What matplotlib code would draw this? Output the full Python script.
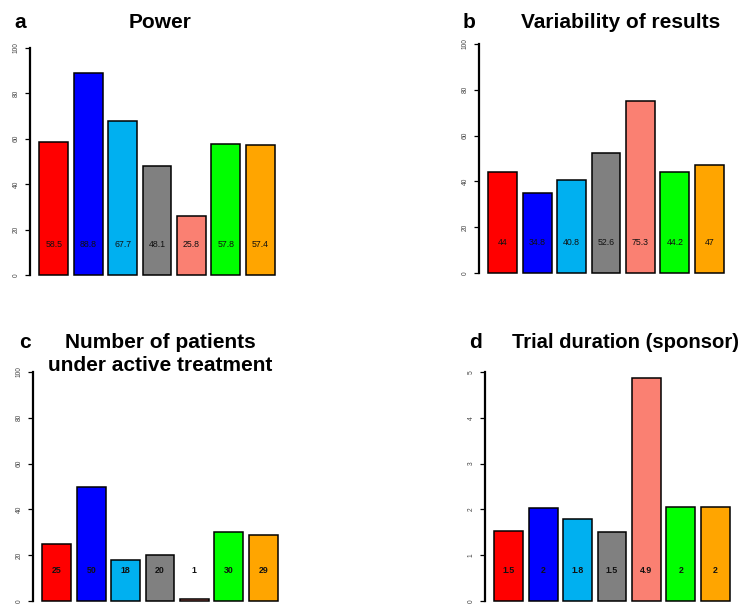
import matplotlib
matplotlib.use("Agg")
import matplotlib.pyplot as plt
import numpy as np

plt.rcParams['font.family'] = ['Liberation Sans', 'DejaVu Sans']

# bar colours, same order in all four panels
colors = ["#FF0000", "#0000FF", "#00B0F0", "#808080", "#FA8072", "#00FF00", "#FFA500"]

power = [58.5, 88.8, 67.7, 48.1, 25.8, 57.8, 57.4]
variability = [44, 34.8, 40.8, 52.6, 75.3, 44.2, 47]
patients = [25, 50, 18, 20, 1, 30, 29]
duration = [1.52, 2.04, 1.8, 1.5, 4.86, 2.05, 2.05]

W, H = 746, 605
fig = plt.figure(figsize=(W / 100, H / 100), dpi=100)


def panel(left, y0, y1, vals, ymax, ticks, title, letter, tx, ty, lx, ly, bold,
          ha="center", tsize=15):
    # left / y0 / y1 in pixels from top-left
    ax = fig.add_axes([left / W, 1 - y0 / H, 254 / W, (y0 - y1) / H])
    x = 0.7 + 1.2 * np.arange(len(vals))
    ax.bar(x, vals, width=1, color=colors, edgecolor="black", linewidth=1.1, clip_on=False)
    for xi, v in zip(x, vals):
        ax.text(xi, 0.135 * ymax, "%g" % round(v, 1), ha="center", va="center",
                fontsize=6.3, fontweight="bold" if bold else "normal", color="#111")
    ax.set_xlim(-0.128, 8.728)
    ax.set_ylim(0, ymax)
    ax.set_xticks([])
    ax.set_yticks(ticks)
    ax.set_yticklabels([str(t) for t in ticks], rotation=90, va="center",
                       fontsize=4.8, color="#444")
    ax.tick_params(axis="y", length=3.5, width=0.9, pad=4)
    for s in ["top", "right", "bottom"]:
        ax.spines[s].set_visible(False)
    ax.spines["left"].set_linewidth(1.6)
    ax.patch.set_alpha(0)
    fig.text(tx / W, 1 - ty / H, title, ha=ha, va="center", fontsize=tsize,
             fontweight="bold", linespacing=1.3)
    fig.text(lx / W, 1 - ly / H, letter, ha="left", va="center", fontsize=15,
             fontweight="bold")
    return ax


panel(30, 275, 48, power, 100, [0, 20, 40, 60, 80, 100],
      "Power", "a", 160, 22, 14, 22, False)
panel(479, 273, 44, variability, 100, [0, 20, 40, 60, 80, 100],
      "Variability of results", "b", 621, 22, 463, 22, False)
panel(33, 601, 372, patients, 100, [0, 20, 40, 60, 80, 100],
      "Number of patients\nunder active treatment", "c", 160, 354, 19, 342, True)
panel(485, 601, 372, duration, 5, [0, 1, 2, 3, 4, 5],
      "Trial duration (sponsor)", "d", 512, 342, 469, 342, True, ha="left", tsize=14.6)

fig.savefig("out.png", dpi=100)
